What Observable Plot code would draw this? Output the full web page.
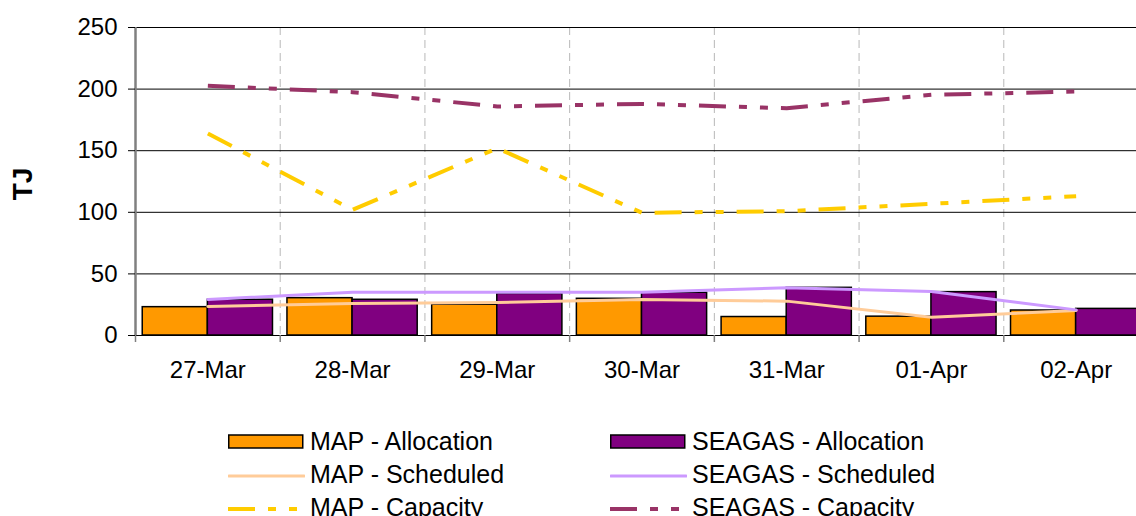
<!DOCTYPE html>
<html>
<head>
<meta charset="utf-8">
<script src="https://cdn.jsdelivr.net/npm/d3@7"></script>
<script src="https://cdn.jsdelivr.net/npm/@observablehq/plot@0.6"></script>
<style>
  html, body { margin: 0; padding: 0; background: white; overflow: hidden; }
  body { width: 1136px; height: 516px; position: relative; font-family: "Liberation Sans", Arial, sans-serif; }
  #legend { position: absolute; left: 0; top: 0; width: 1136px; height: 516px; pointer-events: none; }
  .item { position: absolute; display: flex; align-items: center; height: 33px; font-size: 25px; color: black; white-space: nowrap; }
  .item svg { display: block; margin-right: 5px; }
</style>
</head>
<body>
<div id="chart"></div>
<div id="legend"></div>
<script>
const dates = ["27-Mar", "28-Mar", "29-Mar", "30-Mar", "31-Mar", "01-Apr", "02-Apr"];
const mapAllocation    = [23.0, 30.3, 25.0, 29.8, 15.0, 15.3, 20.3];
const seagasAllocation = [29.0, 29.0, 33.8, 34.7, 38.7, 35.2, 21.6];
const mapScheduled     = [23.5, 26.0, 26.8, 29.2, 27.9, 14.9, 20.3];
const seagasScheduled  = [29.2, 35.2, 35.2, 35.2, 38.7, 35.7, 20.8];
const mapCapacity      = [164.0, 102.0, 152.0, 99.6, 100.9, 106.9, 113.1];
const seagasCapacity   = [202.7, 197.5, 185.9, 188.0, 184.5, 195.4, 198.0];
const yTicks = [0, 50, 100, 150, 200, 250];

const idx = dates.map((d, i) => i);
const boundaries = [...idx.map(i => i - 0.5), dates.length - 0.5];
const rows = dates.map((d, i) => ({
  i, date: d,
  mapA: mapAllocation[i], seaA: seagasAllocation[i],
  mapS: mapScheduled[i], seaS: seagasScheduled[i],
  mapC: mapCapacity[i], seaC: seagasCapacity[i]
}));
const half = 0.45;
const capDash = "27,13,8,13,8,13";

const chart = Plot.plot({
  width: 1136,
  height: 400,
  marginTop: 27,
  marginBottom: 65,
  marginLeft: 135,
  marginRight: 0,
  style: { fontFamily: "Liberation Sans, Arial, sans-serif", fontSize: "24px", color: "black", background: "white", overflow: "hidden" },
  x: { domain: [boundaries[0], boundaries[boundaries.length - 1]], range: [135, 1148] },
  y: { domain: [yTicks[0], yTicks[yTicks.length - 1]] },
  marks: [
    Plot.gridX({ ticks: boundaries.slice(1), stroke: "#b8b8b8", strokeOpacity: 1, strokeDasharray: "8,5" }),
    Plot.gridY({ ticks: yTicks.slice(1), stroke: "black", strokeOpacity: 1 }),
    Plot.rectY(rows, { x1: d => d.i - half, x2: d => d.i, y1: 0, y2: "mapA", fill: "#FF9900", stroke: "black", strokeWidth: 1.5 }),
    Plot.rectY(rows, { x1: d => d.i, x2: d => d.i + half, y1: 0, y2: "seaA", fill: "#800080", stroke: "black", strokeWidth: 1.5 }),
    Plot.ruleY([yTicks[0]], { stroke: "black", strokeWidth: 1.2 }),
    Plot.axisX({ ticks: boundaries, tickSize: 7, tickFormat: () => "", stroke: "#808080", strokeWidth: 1.5, label: null }),
    Plot.ruleX([boundaries[0]], { stroke: "#808080", strokeWidth: 2.5 }),
    Plot.axisX({ ticks: idx, tickSize: 0, tickPadding: 25, tickFormat: i => dates[i], fontSize: 24, fill: "black", label: null }),
    Plot.axisY({ ticks: yTicks, tickSize: 7, tickPadding: 11, fontSize: 24, stroke: "black", fill: "black", label: null }),
    Plot.line(rows, { x: "i", y: "mapS", stroke: "#FFCC99", strokeWidth: 3 }),
    Plot.line(rows, { x: "i", y: "seaS", stroke: "#CC99FF", strokeWidth: 3 }),
    Plot.line(rows, { x: "i", y: "mapC", stroke: "#FFCC00", strokeWidth: 4, strokeDasharray: capDash, strokeLinecap: "butt" }),
    Plot.line(rows, { x: "i", y: "seaC", stroke: "#993366", strokeWidth: 4, strokeDasharray: capDash, strokeLinecap: "butt" }),
    Plot.text(["TJ"], { frameAnchor: "left", textAnchor: "middle", lineAnchor: "middle", dx: -112, dy: 2.5, rotate: -90, fontSize: 28, fontWeight: "bold", fill: "black" })
  ]
});
document.getElementById("chart").appendChild(chart);

// Legend
const legendItems = [
  { label: "MAP - Allocation", type: "bar", color: "#FF9900", col: 0, row: 0 },
  { label: "SEAGAS - Allocation", type: "bar", color: "#800080", col: 1, row: 0 },
  { label: "MAP - Scheduled", type: "line", color: "#FFCC99", col: 0, row: 1 },
  { label: "SEAGAS - Scheduled", type: "line", color: "#CC99FF", col: 1, row: 1 },
  { label: "MAP - Capacity", type: "dash", color: "#FFCC00", col: 0, row: 2 },
  { label: "SEAGAS - Capacity", type: "dash", color: "#993366", col: 1, row: 2 }
];
const colLeft = [228, 610];
const legend = document.getElementById("legend");
for (const it of legendItems) {
  const div = document.createElement("div");
  div.className = "item";
  div.style.left = colLeft[it.col] + "px";
  div.style.top = (425 + it.row * 33) + "px";
  let sw;
  if (it.type === "bar") {
    sw = `<svg width="77" height="33"><rect x="0.75" y="10" width="74" height="13" fill="${it.color}" stroke="black" stroke-width="1.5"/></svg>`;
  } else if (it.type === "line") {
    sw = `<svg width="77" height="33"><line x1="1" x2="76" y1="18" y2="18" stroke="${it.color}" stroke-width="3" stroke-linecap="round"/></svg>`;
  } else {
    sw = `<svg width="77" height="33"><line x1="0" x2="76" y1="18" y2="18" stroke="${it.color}" stroke-width="4" stroke-dasharray="${capDash}"/></svg>`;
  }
  div.innerHTML = sw + `<span>${it.label}</span>`;
  legend.appendChild(div);
}
</script>
</body>
</html>
